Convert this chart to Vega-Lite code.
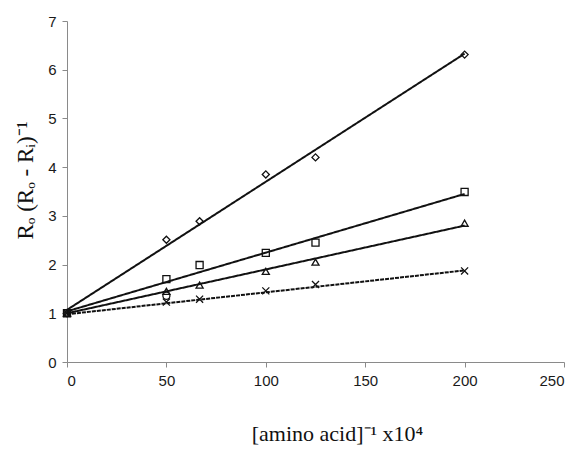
{
  "$schema": "https://vega.github.io/schema/vega-lite/v6.json",
  "width": 497,
  "height": 341,
  "autosize": {"type": "none"},
  "padding": {"left": 67, "top": 21, "right": 15, "bottom": 87},
  "background": "white",
  "config": {"view": {"stroke": null}},
  "datasets": {
    "pts": [
      {"x": 0, "y": 1.0, "s": "diamond"},
      {"x": 50, "y": 2.51, "s": "diamond"},
      {"x": 66.7, "y": 2.89, "s": "diamond"},
      {"x": 100, "y": 3.85, "s": "diamond"},
      {"x": 125, "y": 4.2, "s": "diamond"},
      {"x": 200, "y": 6.31, "s": "diamond"},
      {"x": 0, "y": 1.0, "s": "square"},
      {"x": 50, "y": 1.7, "s": "square"},
      {"x": 66.7, "y": 1.99, "s": "square"},
      {"x": 100, "y": 2.24, "s": "square"},
      {"x": 125, "y": 2.45, "s": "square"},
      {"x": 200, "y": 3.49, "s": "square"},
      {"x": 0, "y": 1.0, "s": "triangle"},
      {"x": 50, "y": 1.45, "s": "triangle"},
      {"x": 66.7, "y": 1.58, "s": "triangle"},
      {"x": 100, "y": 1.86, "s": "triangle"},
      {"x": 125, "y": 2.05, "s": "triangle"},
      {"x": 200, "y": 2.85, "s": "triangle"},
      {"x": 0, "y": 1.0, "s": "cross"},
      {"x": 50, "y": 1.23, "s": "cross"},
      {"x": 66.7, "y": 1.29, "s": "cross"},
      {"x": 100, "y": 1.46, "s": "cross"},
      {"x": 125, "y": 1.59, "s": "cross"},
      {"x": 200, "y": 1.87, "s": "cross"},
      {"x": 50, "y": 1.36, "s": "circle"}
    ],
    "fits": [
      {"x": 0, "y": 1.07, "s": "diamond"},
      {"x": 200, "y": 6.33, "s": "diamond"},
      {"x": 0, "y": 1.04, "s": "square"},
      {"x": 200, "y": 3.45, "s": "square"},
      {"x": 0, "y": 1.0, "s": "triangle"},
      {"x": 200, "y": 2.8, "s": "triangle"},
      {"x": 0, "y": 0.98, "s": "cross"},
      {"x": 200, "y": 1.88, "s": "cross"}
    ]
  },
  "layer": [
    {
      "data": {"name": "fits"},
      "mark": {"type": "line", "color": "#111111", "strokeWidth": 2},
      "encoding": {
        "x": {"field": "x", "type": "quantitative",
          "scale": {"domain": [0, 250], "nice": false},
          "axis": {
            "values": [0, 50, 100, 150, 200, 250],
            "grid": false,
            "domainColor": "#8a8a8a", "tickColor": "#8a8a8a", "tickSize": 5,
            "labelFont": "Liberation Sans", "labelFontSize": 15, "labelColor": "#1a1a1a",
            "labelPadding": 6,
            "title": "[amino acid]⁻¹ x10⁴",
            "titleFont": "Liberation Serif", "titleFontSize": 22, "titleFontWeight": "normal",
            "titleColor": "#111111", "titlePadding": 35, "titleX": 270
          }
        },
        "y": {"field": "y", "type": "quantitative",
          "scale": {"domain": [0, 7], "nice": false},
          "axis": {
            "values": [0, 1, 2, 3, 4, 5, 6, 7],
            "grid": false,
            "domainColor": "#8a8a8a", "tickColor": "#8a8a8a", "tickSize": 5,
            "labelFont": "Liberation Sans", "labelFontSize": 15, "labelColor": "#1a1a1a",
            "labelPadding": 6,
            "title": "Rₒ (Rₒ - Rᵢ)⁻¹",
            "titleFont": "Liberation Serif", "titleFontSize": 23, "titleFontWeight": "normal",
            "titleColor": "#111111", "titlePadding": 10, "titleY": 159
          }
        },
        "detail": {"field": "s", "type": "nominal"},
        "strokeDash": {"field": "s", "type": "nominal",
          "scale": {"domain": ["diamond", "square", "triangle", "cross"],
                    "range": [[1, 0], [1, 0], [1, 0], [4, 1]]},
          "legend": null}
      }
    },
    {
      "data": {"name": "pts"},
      "mark": {"type": "point", "filled": false, "stroke": "#111111", "strokeWidth": 1.3, "opacity": 1},
      "encoding": {
        "x": {"field": "x", "type": "quantitative"},
        "y": {"field": "y", "type": "quantitative"},
        "shape": {"field": "s", "type": "nominal",
          "scale": {"domain": ["diamond", "square", "triangle", "cross", "circle"],
                    "range": ["diamond", "square", "triangle-up", "M-1,-1L1,1M-1,1L1,-1", "circle"]},
          "legend": null},
        "size": {"value": 50}
      }
    }
  ]
}
